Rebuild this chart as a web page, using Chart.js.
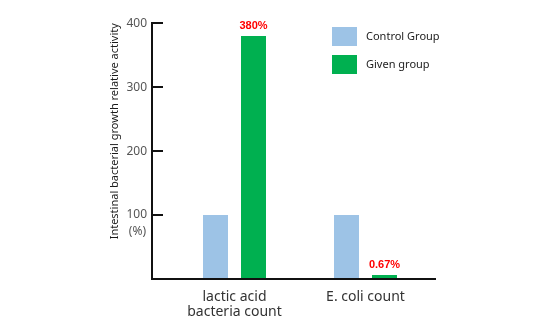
<!DOCTYPE html>
<html>
<head>
<meta charset="utf-8">
<script src="https://cdn.jsdelivr.net/npm/chart.js@4.4.1/dist/chart.umd.min.js"></script>
<style>
  html, body { margin: 0; padding: 0; background: #fff; }
  #wrap { width: 540px; height: 324px; }
</style>
</head>
<body>
<div id="wrap"><canvas id="chart"></canvas></div>
<script>
// categories on a numeric x axis so the axis can start left of the first group
const categories = [['lactic acid', 'bacteria count'], 'E. coli count'];
const categoryPos = [1, 2];
const controlValues = [100, 100];
const givenValues = [380, 0.67];
const seriesNames = ['Control Group', 'Given group'];
const yTicks = [0, 100, 200, 300, 400];

const FONT = "'Noto Sans', 'DejaVu Sans', sans-serif";

function points(values) {
    return values.map((v, i) => ({ x: categoryPos[i], y: v }));
}

// legend, value labels and the (%) unit, drawn on top of the chart
const overlay = {
    id: 'overlay',
    afterDraw(chart) {
        const ctx = chart.ctx;
        const yScale = chart.scales.y;
        ctx.save();

        // value labels over the given group bars
        ctx.fillStyle = '#ff0000';
        ctx.font = "bold 11px 'Liberation Sans', Arial, sans-serif";
        ctx.textAlign = 'center';
        ctx.textBaseline = 'bottom';
        chart.getDatasetMeta(1).data.forEach((bar, i) => {
            ctx.fillText(givenValues[i] + '%', bar.x, bar.y - 5);
        });

        // unit below the 100 tick
        ctx.fillStyle = '#555';
        ctx.font = '12px ' + FONT;
        ctx.textAlign = 'right';
        ctx.textBaseline = 'middle';
        ctx.fillText('(%)', 146, yScale.getPixelForValue(100) + 17);

        // legend
        ctx.font = '11px ' + FONT;
        ctx.textAlign = 'left';
        chart.data.datasets.forEach((ds, i) => {
            const top = 27 + i * 28;
            ctx.fillStyle = ds.backgroundColor;
            ctx.fillRect(332, top, 25, 19);
            ctx.fillStyle = '#222';
            ctx.fillText(ds.label, 366, top + 10);
        });
        ctx.restore();
    }
};

new Chart(document.getElementById('chart'), {
    type: 'bar',
    data: {
        datasets: [
            {
                label: seriesNames[0],
                data: points(controlValues),
                backgroundColor: '#9dc3e6'
            },
            {
                label: seriesNames[1],
                data: points(givenValues),
                backgroundColor: '#00b050',
                minBarLength: 4
            }
        ]
    },
    options: {
        responsive: true,
        maintainAspectRatio: false,
        animation: false,
        categoryPercentage: 0.58,
        barPercentage: 0.658,
        layout: { padding: { left: 0, right: 105, top: 12, bottom: 0 } },
        plugins: {
            legend: { display: false },
            tooltip: { enabled: false }
        },
        scales: {
            x: {
                type: 'linear',
                min: 0.3702,
                max: 2.5305,
                offset: false,
                z: 1,
                afterBuildTicks: (scale) => {
                    scale.ticks = categoryPos.map(v => ({ value: v }));
                },
                afterFit: (scale) => { scale.height = 45; },
                grid: { display: false, offset: false },
                border: { display: true, color: '#111', width: 2 },
                ticks: {
                    autoSkip: false,
                    maxRotation: 0,
                    padding: 2,
                    color: '#333',
                    font: { family: FONT, size: 14, lineHeight: 1.1 },
                    callback: (v) => categories[categoryPos.indexOf(v)] ?? ''
                }
            },
            y: {
                min: 0,
                max: 400,
                afterBuildTicks: (scale) => {
                    scale.ticks = yTicks.map(v => ({ value: v }));
                },
                afterFit: (scale) => { scale.width = 152; },
                grid: {
                    display: true,
                    drawOnChartArea: false,
                    drawTicks: true,
                    tickLength: -11,
                    color: '#111',
                    lineWidth: 2
                },
                border: { display: true, color: '#111', width: 2 },
                ticks: {
                    padding: 16,
                    color: '#555',
                    font: { family: FONT, size: 12 },
                    callback: (v) => (v === 0 ? '' : v)
                },
                title: {
                    display: true,
                    text: 'Intestinal bacterial growth relative activity',
                    align: 'end',
                    color: '#1a1a1a',
                    font: { family: FONT, size: 11 },
                    padding: { top: 108, bottom: 0 }
                }
            }
        }
    },
    plugins: [overlay]
});
</script>
</body>
</html>
